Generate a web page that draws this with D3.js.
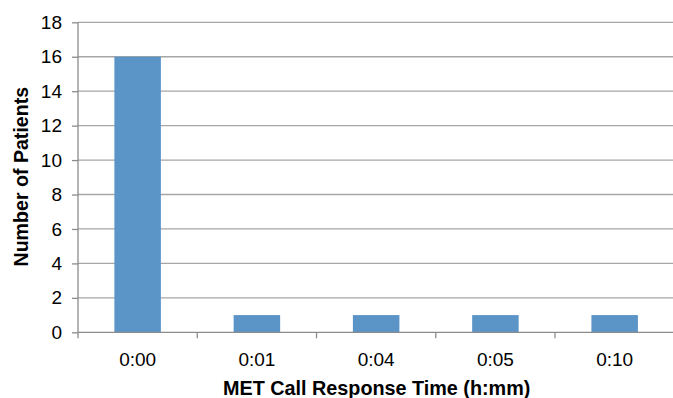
<!DOCTYPE html>
<html><head><meta charset="utf-8">
<script src="https://cdn.jsdelivr.net/npm/d3@7"></script>
<style>body{margin:0;background:#fff}svg{display:block}text{font-family:"Liberation Sans",Arial,sans-serif}</style>
</head><body>
<svg id="c" width="673" height="398"></svg>
<script>
const categories = ["0:00","0:01","0:04","0:05","0:10"];
const values = [16,1,1,1,1];
const yTicks = [0,2,4,6,8,10,12,14,16,18];

const svg = d3.select("#c");
const mLeft = 78, mRight = 674.3, mTop = 22.3, mBottom = 332.3;
const x = d3.scaleBand().domain(categories).range([mLeft,mRight]).paddingInner(0.61).paddingOuter(0.305);
const xo = d3.scaleBand().domain(categories).range([mLeft,mRight]);
const y = d3.scaleLinear().domain([0,18]).range([mBottom,mTop]);

// gridlines
svg.append("g").selectAll("line").data(yTicks.filter(d=>d>0)).join("line")
  .attr("x1",mLeft).attr("x2",673).attr("y1",d=>y(d)).attr("y2",d=>y(d))
  .attr("stroke","#a6a6a6").attr("stroke-width",1.3);

// bars
svg.append("g").selectAll("rect").data(values).join("rect")
  .attr("x",(d,i)=>x(categories[i])).attr("width",x.bandwidth())
  .attr("y",d=>y(d)).attr("height",d=>mBottom-y(d))
  .attr("fill","#5b95c8");

// y axis
const ya = d3.axisLeft(y).tickValues(yTicks).tickSize(6).tickPadding(10);
const gy = svg.append("g").attr("transform",`translate(${mLeft},0)`).call(ya);
gy.select(".domain").attr("stroke","#8c8c8c").attr("stroke-width",1.3).attr("d",`M0,${mTop}V${mBottom}`);
gy.selectAll(".tick line").attr("stroke","#8c8c8c").attr("stroke-width",1.3);
gy.selectAll(".tick text").attr("font-size",19).attr("fill","#000").attr("font-family","Liberation Sans, Arial, sans-serif");

// x axis
const gx = svg.append("g").attr("transform",`translate(0,${mBottom})`);
gx.append("line").attr("x1",mLeft).attr("x2",673).attr("stroke","#8c8c8c").attr("stroke-width",1.3);
const tickPos = categories.map(c=>xo(c)).concat([mRight]);
gx.selectAll(".t").data(tickPos).join("line").attr("class","t")
  .attr("x1",d=>d).attr("x2",d=>d).attr("y1",0).attr("y2",6)
  .attr("stroke","#8c8c8c").attr("stroke-width",1.3);
gx.selectAll("text").data(categories).join("text")
  .attr("x",d=>xo(d)+xo.bandwidth()/2).attr("y",34)
  .attr("text-anchor","middle").attr("font-size",19).attr("fill","#000").text(d=>d);

// titles
svg.append("text").attr("x",376.7).attr("y",395).attr("text-anchor","middle")
  .attr("font-size",19.8).attr("font-weight","bold").text("MET Call Response Time (h:mm)");
svg.append("text").attr("transform","translate(28,176.7) rotate(-90)").attr("text-anchor","middle")
  .attr("font-size",19.6).attr("font-weight","bold").text("Number of Patients");
</script>
</body></html>
